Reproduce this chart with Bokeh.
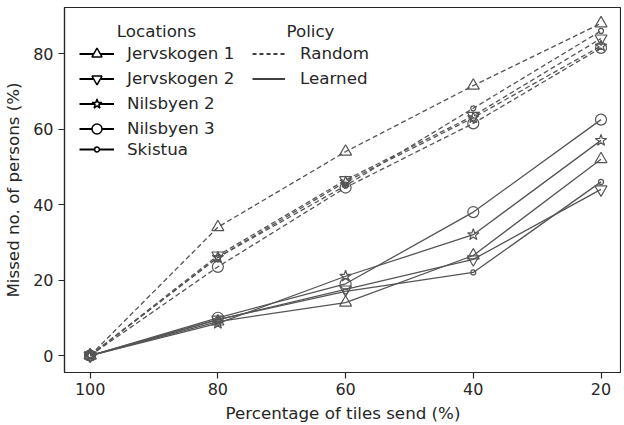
from bokeh.plotting import figure
from bokeh.models import Range1d, ColumnDataSource, Legend, LegendItem, Label, FixedTicker
from bokeh.embed import file_html
from bokeh.resources import INLINE

# ---- data ----
tiles = [100, 80, 60, 40, 20]
locations = ["Jervskogen 1", "Jervskogen 2", "Nilsbyen 2", "Nilsbyen 3", "Skistua"]
random_j1 = [0, 34, 54, 71.5, 88]
random_j2 = [0, 26.5, 46.5, 63.5, 84]
random_n2 = [0, 26, 46, 63, 82]
random_n3 = [0, 23.5, 44.5, 61.5, 81.5]
random_sk = [0, 26, 45, 65.5, 86]
learned_j1 = [0, 9, 14, 26.5, 52]
learned_j2 = [0, 9.5, 17.5, 25.5, 44]
learned_n2 = [0, 8.5, 21, 32, 57]
learned_n3 = [0, 10, 19, 38, 62.5]
learned_sk = [0, 9.5, 17, 22, 46]
x_ticks = [100, 80, 60, 40, 20]
y_ticks = [0, 20, 40, 60, 80]

random_series = [random_j1, random_j2, random_n2, random_n3, random_sk]
learned_series = [learned_j1, learned_j2, learned_n2, learned_n3, learned_sk]
markers = ["triangle", "inverted_triangle", "star", "circle", "circle"]
msizes = [12, 12, 12, 11, 5]

FONT = "DejaVu Sans"
TXT = "#262626"
LINE = "#555555"

p = figure(frame_width=557, frame_height=365, output_backend="svg", toolbar_location=None,
           x_range=Range1d(104.02, 16.79), y_range=Range1d(-4.5, 92.2),
           min_border_left=59, min_border_right=0, min_border_top=7, min_border_bottom=0)
p.grid.visible = False
p.background_fill_color = "white"
p.outline_line_color = TXT
p.outline_line_width = 1.2
p.outline_line_alpha = 1

for ax in (p.xaxis[0], p.yaxis[0]):
    ax.axis_line_color = TXT
    ax.axis_line_width = 1.2
    ax.major_tick_line_color = TXT
    ax.major_tick_line_width = 1.2
    ax.major_tick_out = 6
    ax.major_tick_in = 0
    ax.minor_tick_line_color = None
    ax.major_label_text_font = FONT
    ax.major_label_text_font_size = "16px"
    ax.major_label_text_color = TXT
    ax.axis_label_text_font = FONT
    ax.axis_label_text_font_size = "16.7px"
    ax.axis_label_text_font_style = "normal"
    ax.axis_label_text_color = TXT

p.xaxis.ticker = FixedTicker(ticks=x_ticks)
p.yaxis.ticker = FixedTicker(ticks=y_ticks)
p.xaxis.axis_label = "Percentage of tiles send (%)"
p.yaxis.axis_label = "Missed no. of persons (%)"
p.xaxis.major_label_standoff = 4
p.yaxis.major_label_standoff = 5
p.xaxis.axis_label_standoff = 5
p.yaxis.axis_label_standoff = 7

for ys, mk, ms in zip(random_series, markers, msizes):
    src = ColumnDataSource(dict(x=tiles, y=ys))
    p.line("x", "y", source=src, line_color=LINE, line_width=1.3, line_dash="5 3")
    p.scatter("x", "y", source=src, marker=mk, size=ms, line_color=LINE, fill_color=None, line_width=1.2)
for ys, mk, ms in zip(learned_series, markers, msizes):
    src = ColumnDataSource(dict(x=tiles, y=ys))
    p.line("x", "y", source=src, line_color=LINE, line_width=1.3)
    p.scatter("x", "y", source=src, marker=mk, size=ms, line_color=LINE, fill_color=None, line_width=1.2)

# legend proxies (NaN data: nothing drawn in the plot area)
nan = float("nan")
proxy = lambda: ColumnDataSource(dict(x=[nan], y=[nan]))

def loc_item(name, mk):
    lr = p.line("x", "y", source=proxy(), line_color="black", line_width=2)
    sr = p.scatter("x", "y", source=proxy(), marker=mk, line_color="black",
                   fill_color="white", line_width=1.5)
    return LegendItem(label=name, renderers=[lr, sr])

loc_items = [loc_item(n, m) for n, m in zip(locations[:4], markers[:4])]
sk_items = [loc_item(locations[4], markers[4])]

dr = p.line("x", "y", source=proxy(), line_color="black", line_width=1.3, line_dash="4 3")
sr2 = p.line("x", "y", source=proxy(), line_color="black", line_width=1.3)
pol_items = [LegendItem(label="Random", renderers=[dr]), LegendItem(label="Learned", renderers=[sr2])]

def style_legend(lg, gw, gh, standoff):
    lg.background_fill_alpha = 0
    lg.border_line_alpha = 0
    lg.padding = 0
    lg.margin = 0
    lg.spacing = 0
    lg.glyph_width = gw
    lg.glyph_height = gh
    lg.label_height = gh
    lg.label_standoff = standoff
    lg.label_text_font = FONT
    lg.label_text_font_size = "16.7px"
    lg.label_text_color = TXT

leg1 = Legend(items=loc_items, location=(15, 231.5))
style_legend(leg1, 35, 25, 13)
leg3 = Legend(items=sk_items, location=(15, 213))
style_legend(leg3, 35, 12, 13)
leg2 = Legend(items=pol_items, location=(188, 281.5))
style_legend(leg2, 33, 25, 15)
for lg in (leg1, leg3, leg2):
    p.add_layout(lg)

for txt, xc in (("Locations", 92), ("Policy", 246)):
    p.add_layout(Label(x=xc, y=342, x_units="screen", y_units="screen", text=txt,
                       text_align="center", text_baseline="middle", text_font=FONT,
                       text_font_size="16.7px", text_color=TXT))

open("out.html", "w").write(file_html(p, INLINE))
